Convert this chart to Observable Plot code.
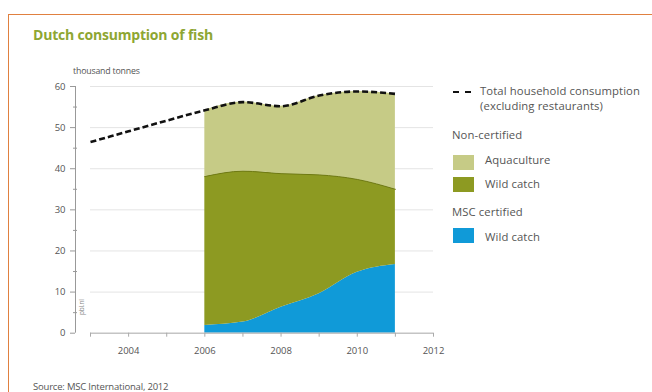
<!DOCTYPE html>
<html><head><meta charset="utf-8">
<script src="https://cdn.jsdelivr.net/npm/d3@7"></script>
<script src="https://cdn.jsdelivr.net/npm/@observablehq/plot@0.6"></script>
<style>
html,body{margin:0;padding:0;background:#fff;}
#wrap{position:relative;width:652px;height:392px;overflow:hidden;font-family:"Open Sans",sans-serif;color:#444;}
#frame{position:absolute;left:8px;top:14px;width:700px;height:400px;border-left:1.5px solid #e08040;border-top:1.5px solid #e08040;}
.t{position:absolute;white-space:nowrap;font-size:9.5px;color:#555;letter-spacing:-0.2px;}
.lg{font-size:11.3px;letter-spacing:0.1px;color:#555;}
#title{left:33px;top:25px;font-size:14px;font-weight:bold;color:#8ea632;letter-spacing:-0.2px;}
.sw{position:absolute;width:21px;height:15px;}
#chart{position:absolute;left:0;top:0;}
</style></head>
<body><div id="wrap">
<div id="frame"></div>
<div id="chart"></div>
<div class="t" id="title">Dutch consumption of fish</div>
<div class="t" style="left:73px;top:65px;font-size:8.8px">thousand tonnes</div>
<div style="position:absolute;left:453px;top:91px;width:18px;border-top:2.5px dashed #111"></div>
<div class="t lg" style="left:480px;top:83px">Total household consumption</div>
<div class="t lg" style="left:480px;top:98px">(excluding restaurants)</div>
<div class="t lg" style="left:452px;top:127px">Non-certified</div>
<div class="sw" style="left:453px;top:155px;background:#c6cb86"></div>
<div class="t lg" style="left:485px;top:152px">Aquaculture</div>
<div class="sw" style="left:453px;top:177px;background:#8d9a22"></div>
<div class="t lg" style="left:485px;top:176px">Wild catch</div>
<div class="t lg" style="left:452px;top:204px">MSC certified</div>
<div class="sw" style="left:453px;top:228px;background:#109ad8"></div>
<div class="t lg" style="left:485px;top:229px">Wild catch</div>
<div class="t" style="left:77px;top:315px;font-size:6.5px;color:#888;transform:rotate(-90deg);transform-origin:left top;">pbl.nl</div>
<div class="t" style="left:33px;top:380px">Source: MSC International, 2012</div>
</div>
<script>
const years = [2003, 2004, 2005, 2006, 2007, 2008, 2009, 2010, 2011];
const total = [46.5, 49.1, 51.7, 54.2, 56.2, 55.2, 57.8, 58.8, 58.2];
const certYears = [2006, 2007, 2008, 2009, 2010, 2011];
const mscWild = [1.9, 2.7, 6.3, 9.6, 14.8, 16.7];
const nonCertWild = [36.2, 36.7, 32.5, 28.9, 22.6, 18.3];
const aquaculture = [16.1, 16.8, 16.4, 19.3, 21.4, 23.2];
const seriesNames = ["MSC wild catch", "Non-certified wild catch", "Aquaculture"];
const seriesColors = ["#109ad8", "#8d9a22", "#c6cb86"];
const yTicks = [0, 10, 20, 30, 40, 50, 60];
const yMinor = [5, 15, 25, 35, 45, 55];
const xTicks = [2003, 2004, 2005, 2006, 2007, 2008, 2009, 2010, 2011, 2012];
const xLabels = [2004, 2006, 2008, 2010, 2012];

const rows = [];
[mscWild, nonCertWild, aquaculture].forEach((arr, s) =>
  certYears.forEach((yr, i) => rows.push({year: yr, value: arr[i], series: seriesNames[s]})));
const totalRows = years.map((yr, i) => ({year: yr, value: total[i]}));
const wildTopRows = certYears.map((yr, i) => ({year: yr, value: mscWild[i] + nonCertWild[i]}));

const chart = Plot.plot({
  width: 652, height: 392,
  marginLeft: 90, marginRight: 219, marginTop: 86, marginBottom: 59.3,
  style: {fontFamily: "Open Sans, sans-serif", fontSize: "9.5px", color: "#555", background: "transparent"},
  x: {domain: [2003, 2012], label: null},
  y: {domain: [0, 60], label: null},
  color: {domain: seriesNames, range: seriesColors},
  marks: [
    Plot.gridY(yTicks.slice(1), {stroke: "#e4e4e4", strokeOpacity: 1}),
    Plot.areaY(rows, {x: "year", y: "value", fill: "series", curve: "monotone-x"}),
    Plot.lineY(wildTopRows, {x: "year", y: "value", stroke: "#6f7a14", strokeWidth: 1, curve: "monotone-x"}),
    Plot.ruleY([0], {x1: 2003, x2: 2012, stroke: "#c4c4c4", strokeWidth: 1.5}),
    Plot.axisX(xTicks, {tickSize: 4, text: null, stroke: "#aaa", label: null}),
    Plot.axisX(xLabels, {tickSize: 0, tickPadding: 14, tickFormat: d => String(d), fill: "#555", label: null}),
    Plot.ruleX([2003], {y1: 0, y2: 60, dx: -15, stroke: "#999"}),
    Plot.axisY(yTicks, {tickSize: 5, dx: -15, tickPadding: 5, stroke: "#999", fill: "#555", label: null}),
    Plot.axisY(yMinor, {tickSize: 4, dx: -13, text: null, stroke: "#999", label: null}),
    Plot.lineY(totalRows, {x: "year", y: "value", stroke: "#111", strokeWidth: 2.6, strokeDasharray: "6,3", strokeLinecap: "butt", curve: "monotone-x"})
  ]
});
document.getElementById("chart").appendChild(chart);
</script>
</body></html>
